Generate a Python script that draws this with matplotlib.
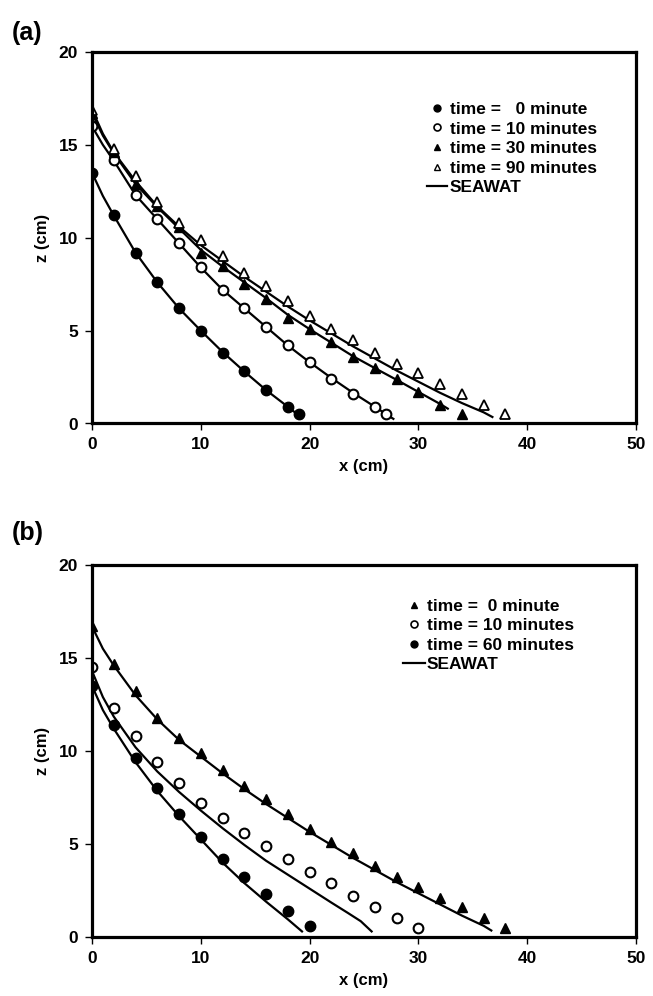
import matplotlib
matplotlib.use("Agg")
import matplotlib.pyplot as plt
from matplotlib.lines import Line2D

plt.rcParams['font.family'] = ['Liberation Sans', 'DejaVu Sans']
plt.rcParams['font.weight'] = 'bold'

# ---------------- Panel (a) data ----------------
a_x0 = [0, 2, 4, 6, 8, 10, 12, 14, 16, 18, 19]
a_z0 = [13.5, 11.2, 9.2, 7.6, 6.2, 5.0, 3.8, 2.8, 1.8, 0.9, 0.5]
a_x10 = [0, 2, 4, 6, 8, 10, 12, 14, 16, 18, 20, 22, 24, 26, 27]
a_z10 = [16.0, 14.2, 12.3, 11.0, 9.7, 8.4, 7.2, 6.2, 5.2, 4.2, 3.3, 2.4, 1.6, 0.9, 0.5]
a_x30 = [0, 2, 4, 6, 8, 10, 12, 14, 16, 18, 20, 22, 24, 26, 28, 30, 32, 34]
a_z30 = [16.7, 14.6, 12.9, 11.7, 10.6, 9.2, 8.5, 7.5, 6.7, 5.7, 5.1, 4.4, 3.6, 3.0, 2.4, 1.7, 1.0, 0.5]
a_x90 = [0, 2, 4, 6, 8, 10, 12, 14, 16, 18, 20, 22, 24, 26, 28, 30, 32, 34, 36, 38]
a_z90 = [16.9, 14.8, 13.3, 11.9, 10.8, 9.9, 9.0, 8.1, 7.4, 6.6, 5.8, 5.1, 4.5, 3.8, 3.2, 2.7, 2.1, 1.6, 1.0, 0.5]

a_sx0 = [0, 1, 2, 4, 6, 8, 10, 12, 14, 16, 18, 19.3]
a_sz0 = [13.5, 12.25, 11.2, 9.2, 7.6, 6.2, 5.0, 3.85, 2.8, 1.8, 0.9, 0.3]
a_sx10 = [0, 1, 2, 4, 6, 8, 10, 12, 14, 16, 18, 20, 22, 24, 26, 27.7]
a_sz10 = [16.0, 15.0, 14.15, 12.3, 11.0, 9.7, 8.4, 7.2, 6.2, 5.2, 4.2, 3.3, 2.45, 1.65, 0.9, 0.25]
a_sx30 = [0, 1, 2, 4, 6, 8, 10, 12, 14, 16, 18, 20, 22, 24, 26, 28, 30, 32, 32.7]
a_sz30 = [16.7, 15.5, 14.55, 12.9, 11.65, 10.5, 9.35, 8.45, 7.6, 6.75, 5.85, 5.08, 4.35, 3.62, 2.98, 2.35, 1.7, 1.05, 0.8]
a_sx90 = [0, 1, 2, 4, 6, 8, 10, 12, 14, 16, 18, 20, 22, 24, 26, 28, 30, 32, 34, 36, 36.8]
a_sz90 = [16.9, 15.6, 14.6, 13.05, 11.7, 10.6, 9.6, 8.75, 7.9, 7.1, 6.3, 5.55, 4.85, 4.15, 3.5, 2.85, 2.25, 1.65, 1.1, 0.6, 0.35]

a_labels = ['time =   0 minute', 'time = 10 minutes', 'time = 30 minutes',
            'time = 90 minutes', 'SEAWAT']

# ---------------- Panel (b) data ----------------
b_x0 = [0, 2, 4, 6, 8, 10, 12, 14, 16, 18, 20, 22, 24, 26, 28, 30, 32, 34, 36, 38]
b_z0 = [16.7, 14.7, 13.2, 11.8, 10.7, 9.9, 9.0, 8.1, 7.4, 6.6, 5.8, 5.1, 4.5, 3.8, 3.2, 2.7, 2.1, 1.6, 1.0, 0.5]
b_x10 = [0, 2, 4, 6, 8, 10, 12, 14, 16, 18, 20, 22, 24, 26, 28, 30]
b_z10 = [14.5, 12.3, 10.8, 9.4, 8.3, 7.2, 6.4, 5.6, 4.9, 4.2, 3.5, 2.9, 2.2, 1.6, 1.0, 0.5]
b_x60 = [0, 2, 4, 6, 8, 10, 12, 14, 16, 18, 20]
b_z60 = [13.5, 11.4, 9.6, 8.0, 6.6, 5.4, 4.2, 3.2, 2.3, 1.4, 0.6]

b_sx0 = [0, 1, 2, 4, 6, 8, 10, 12, 14, 16, 18, 20, 22, 24, 26, 28, 30, 32, 34, 36, 36.7]
b_sz0 = [16.7, 15.5, 14.6, 13.0, 11.7, 10.6, 9.7, 8.8, 7.95, 7.15, 6.4, 5.65, 4.95, 4.25, 3.6, 2.95, 2.35, 1.75, 1.15, 0.6, 0.35]
b_sx10 = [0, 1, 2, 4, 6, 8, 10, 12, 14, 16, 18, 20, 22, 23.5, 24.7, 25.7]
b_sz10 = [14.3, 12.9, 11.85, 10.2, 8.9, 7.8, 6.8, 5.85, 4.95, 4.1, 3.35, 2.6, 1.85, 1.3, 0.85, 0.3]
b_sx60 = [0, 1, 2, 4, 6, 8, 10, 12, 14, 16, 18, 19.3]
b_sz60 = [13.5, 12.2, 11.2, 9.4, 7.85, 6.5, 5.25, 4.0, 2.9, 1.9, 0.95, 0.3]

b_labels = ['time =  0 minute', 'time = 10 minutes', 'time = 60 minutes', 'SEAWAT']

x_ticks = [0, 10, 20, 30, 40, 50]
z_ticks = [0, 5, 10, 15, 20]

W, H = 653, 996
fig = plt.figure(figsize=(W / 100, H / 100), dpi=100)

def make_ax(top_px, bot_px):
    left, right = 92, 636
    return fig.add_axes([left / W, (H - bot_px) / H, (right - left) / W, (bot_px - top_px) / H])

ax_a = make_ax(52, 423.5)
ax_b = make_ax(565, 937)

MS = 7.5
filled_c = dict(marker='o', ms=MS, mfc='black', mec='black', ls='none')
open_c = dict(marker='o', ms=MS - 0.5, mfc='white', mec='black', mew=1.5, ls='none')
filled_t = dict(marker='^', ms=MS, mfc='black', mec='black', ls='none')
open_t = dict(marker='^', ms=MS, mfc='white', mec='black', mew=1.3, ls='none')
line_kw = dict(color='black', lw=1.6)

# panel (a)
for sx, sz in [(a_sx0, a_sz0), (a_sx10, a_sz10), (a_sx30, a_sz30), (a_sx90, a_sz90)]:
    ax_a.plot(sx, sz, **line_kw)
ax_a.plot(a_x0, a_z0, **filled_c)
ax_a.plot(a_x10, a_z10, **open_c)
ax_a.plot(a_x30, a_z30, **filled_t)
ax_a.plot(a_x90, a_z90, **open_t)

# panel (b)
for sx, sz in [(b_sx0, b_sz0), (b_sx10, b_sz10), (b_sx60, b_sz60)]:
    ax_b.plot(sx, sz, **line_kw)
ax_b.plot(b_x0, b_z0, **filled_t)
ax_b.plot(b_x10, b_z10, **open_c)
ax_b.plot(b_x60, b_z60, **filled_c)

LMS = 5
def lh(kind):
    if kind == 'fc':
        return Line2D([], [], marker='o', ms=LMS, mfc='black', mec='black', ls='none')
    if kind == 'oc':
        return Line2D([], [], marker='o', ms=LMS, mfc='white', mec='black', mew=1.2, ls='none')
    if kind == 'ft':
        return Line2D([], [], marker='^', ms=LMS, mfc='black', mec='black', ls='none')
    if kind == 'ot':
        return Line2D([], [], marker='^', ms=LMS, mfc='white', mec='black', mew=1.0, ls='none')
    return Line2D([], [], color='black', lw=1.6)

leg_prop = dict(size=12.5, weight='bold')
ax_a.legend([lh('fc'), lh('oc'), lh('ft'), lh('ot'), lh('l')], a_labels,
            loc='upper left', bbox_to_anchor=(0.616, 0.866), frameon=False,
            prop=leg_prop, handlelength=1.15, handletextpad=0.15,
            labelspacing=0.255, borderpad=0, borderaxespad=0)
ax_b.legend([lh('ft'), lh('oc'), lh('fc'), lh('l')], b_labels,
            loc='upper left', bbox_to_anchor=(0.572, 0.910), frameon=False,
            prop=leg_prop, handlelength=1.26, handletextpad=0.1,
            labelspacing=0.255, borderpad=0, borderaxespad=0)

for ax, lab in [(ax_a, '(a)'), (ax_b, '(b)')]:
    ax.set_xlim(0, 50)
    ax.set_ylim(0, 20)
    ax.set_xticks(x_ticks)
    ax.set_yticks(z_ticks)
    ax.tick_params(direction='out', length=5, width=1, labelsize=12.5, pad=5)
    for t in ax.get_xticklabels() + ax.get_yticklabels():
        t.set_fontweight('bold')
    for s in ax.spines.values():
        s.set_linewidth(2.3)
    ax.set_xlabel('x (cm)', fontsize=12, fontweight='bold', labelpad=5)
    ax.set_ylabel('z (cm)', fontsize=12, fontweight='bold', labelpad=6)

fig.text(12 / W, 1 - 33 / H, '(a)', fontsize=18, fontweight='bold', va='center', ha='left')
fig.text(12 / W, 1 - 533 / H, '(b)', fontsize=18, fontweight='bold', va='center', ha='left')

fig.savefig('out.png', dpi=100)
